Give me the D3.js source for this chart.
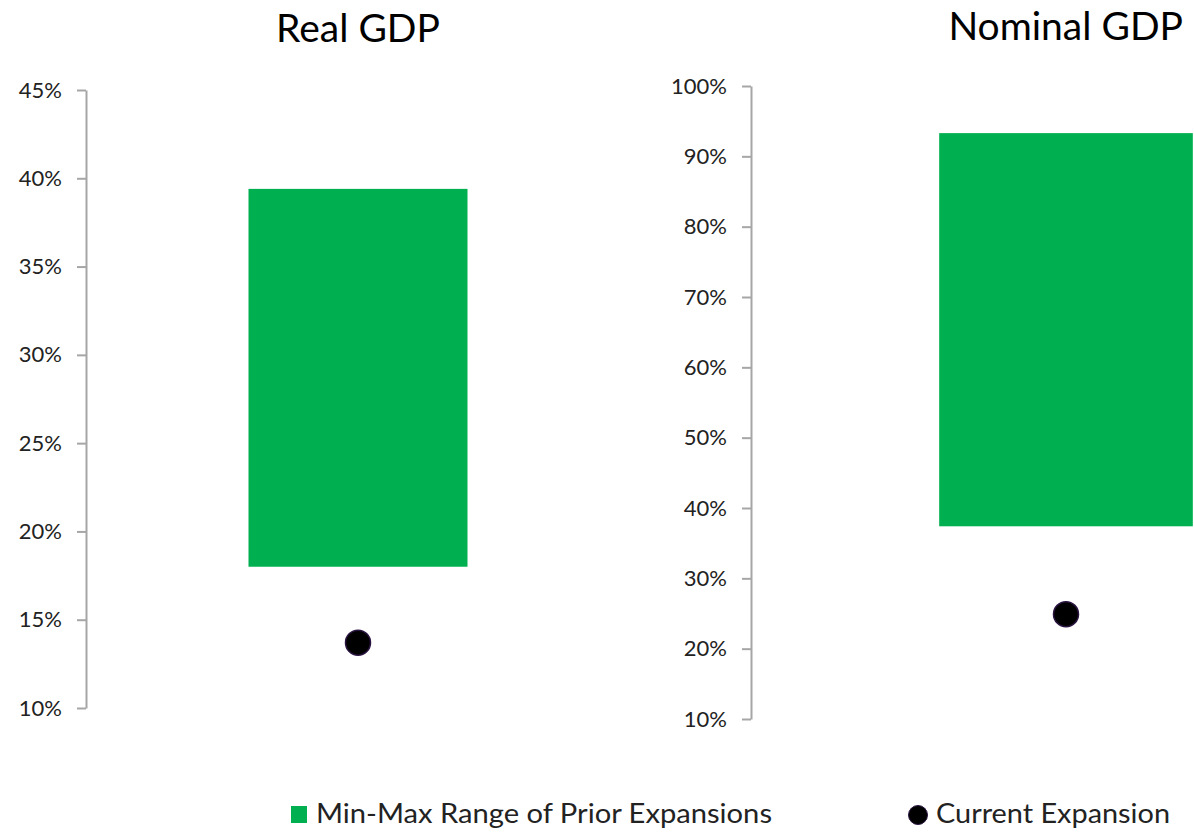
<!DOCTYPE html>
<html><head><meta charset="utf-8">
<script src="https://cdn.jsdelivr.net/npm/d3@7"></script>
<style>
html,body{margin:0;padding:0;background:#fff;overflow:hidden}
svg{display:block}
</style></head>
<body>
<script>
const charts = ["Real GDP", "Nominal GDP"];
const rangeMin = [18.0, 37.4];
const rangeMax = [39.4, 93.3];
const current = [13.7, 24.9];
const yTicksReal = [10, 15, 20, 25, 30, 35, 40, 45];
const yTicksNominal = [10, 20, 30, 40, 50, 60, 70, 80, 90, 100];
const legendLabels = ["Min-Max Range of Prior Expansions", "Current Expansion"];

const W = 1194, H = 832;
const GREEN = "#00b050";
const FONT = "Lato, 'Open Sans', sans-serif";
const svg = d3.select("body").append("svg").attr("width", W).attr("height", H);

const layouts = [
  {axisX: 86, yTop: 90, yBot: 708, domain: [10, 45], ticks: yTicksReal, bandW: 544, titleY: 42, titleEnd: null},
  {axisX: 751, yTop: 86, yBot: 719, domain: [10, 100], ticks: yTicksNominal, bandW: 630, titleY: 40, titleEnd: 1183}
];

charts.forEach((name, i) => {
  const L = layouts[i];
  const y = d3.scaleLinear().domain(L.domain).range([L.yBot, L.yTop]);
  const x = d3.scaleBand().domain([name]).range([L.axisX, L.axisX + L.bandW])
    .paddingInner(0).paddingOuter(0.742);
  const g = svg.append("g");

  const ax = g.append("g").attr("transform", `translate(${L.axisX},0)`)
    .call(d3.axisLeft(y).tickValues(L.ticks).tickSize(9).tickSizeOuter(0).tickPadding(15)
      .tickFormat(d => d + "%"));
  ax.select(".domain").attr("stroke", "#a6a6a6").attr("stroke-width", 2);
  ax.selectAll(".tick line").attr("stroke", "#a6a6a6").attr("stroke-width", 2);
  ax.selectAll(".tick text").attr("fill", "#222").style("font-family", FONT).style("font-size", "22px");

  g.append("rect")
    .attr("x", x(name)).attr("width", x.bandwidth())
    .attr("y", y(rangeMax[i])).attr("height", y(rangeMin[i]) - y(rangeMax[i]))
    .attr("fill", GREEN);

  g.append("circle")
    .attr("cx", x(name) + x.bandwidth() / 2).attr("cy", y(current[i])).attr("r", 12.5)
    .attr("fill", "#000").attr("stroke", "#2a1440").attr("stroke-width", 1.5);

  g.append("text")
    .attr("x", L.titleEnd !== null ? L.titleEnd : x(name) + x.bandwidth() / 2).attr("y", L.titleY)
    .attr("text-anchor", L.titleEnd !== null ? "end" : "middle").attr("fill", "#000")
    .style("font-family", FONT).style("font-size", "39px")
    .text(name);
});

// legend
const lg = svg.append("g");
lg.append("rect").attr("x", 291).attr("y", 806).attr("width", 16).attr("height", 17).attr("fill", GREEN);
lg.append("text").attr("x", 316).attr("y", 823).attr("fill", "#222")
  .style("font-family", FONT).style("font-size", "27px")
  .attr("textLength", 456).attr("lengthAdjust", "spacingAndGlyphs").text(legendLabels[0]);
lg.append("circle").attr("cx", 918).attr("cy", 815).attr("r", 9.5).attr("fill", "#000")
  .attr("stroke", "#2a1440").attr("stroke-width", 1);
lg.append("text").attr("x", 936).attr("y", 823).attr("fill", "#222")
  .style("font-family", FONT).style("font-size", "27px")
  .attr("textLength", 234).attr("lengthAdjust", "spacingAndGlyphs").text(legendLabels[1]);
</script>
</body></html>
